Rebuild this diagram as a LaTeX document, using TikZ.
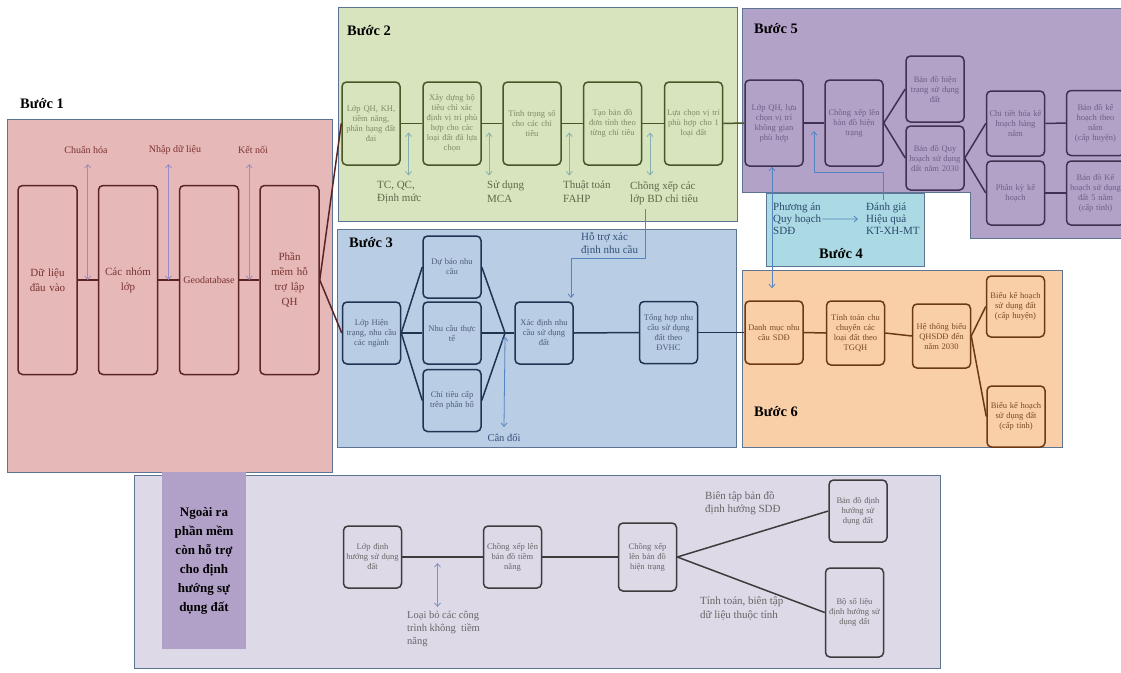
\documentclass[tikz,border=0pt]{standalone}
\usepackage{fontspec}
\setmainfont{Liberation Serif}
\usepackage{tikz}
\usetikzlibrary{positioning, arrows.meta, calc}

\definecolor{khungvien}{HTML}{5E7493}
\definecolor{nen1}{HTML}{E6B8B7}
\definecolor{vien1}{HTML}{5A2424}
\definecolor{chu1}{HTML}{7A3232}
\definecolor{mui1}{HTML}{9A8CC2}
\definecolor{nen2}{HTML}{D7E4BD}
\definecolor{vien2}{HTML}{485628}
\definecolor{chu2}{HTML}{7D8C68}
\definecolor{nhan2}{HTML}{5C6A4C}
\definecolor{mui2}{HTML}{86AEB0}
\definecolor{nen3}{HTML}{B9CDE5}
\definecolor{vien3}{HTML}{1F3450}
\definecolor{chu3}{HTML}{4E5E78}
\definecolor{nhan3}{HTML}{34507A}
\definecolor{mui3}{HTML}{5585C0}
\definecolor{nen4}{HTML}{ABD9E4}
\definecolor{chu4}{HTML}{2B4A6B}
\definecolor{nen5}{HTML}{B3A2C7}
\definecolor{vien5}{HTML}{3F3151}
\definecolor{chu5}{HTML}{6E5E88}
\definecolor{nen6}{HTML}{F9CFA8}
\definecolor{vien6}{HTML}{6B3A15}
\definecolor{chu6}{HTML}{7A4A25}
\definecolor{nen7}{HTML}{DDD9E7}
\definecolor{nen7b}{HTML}{B1A0C7}
\definecolor{vien7}{HTML}{3C3C3C}
\definecolor{chu7}{HTML}{666666}
\definecolor{mui7}{HTML}{8092C6}

\begin{document}
\begin{tikzpicture}[
        x=1pt, y=-1pt,
        >={Straight Barb[length=3.5pt, width=6pt]},
        panel/.style={draw=khungvien, line width=0.9pt, anchor=north west, inner sep=0pt},
        box/.style={draw, rounded corners=4.5pt, line width=1.5pt, align=center, inner sep=1pt, text width=56pt, font=\fontsize{8.5}{10}\selectfont},
        box1/.style={box, draw=vien1, text=chu1, text width=57pt, minimum height=189pt, font=\fontsize{11}{15}\selectfont},
        box2/.style={box, draw=vien2, text=chu2, minimum height=83pt},
        box3/.style={box, draw=vien3, text=chu3, minimum height=62pt},
        box5/.style={box, draw=vien5, text=chu5, minimum height=65pt},
        box6/.style={box, draw=vien6, text=chu6, minimum height=62pt},
        box7/.style={box, draw=vien7, text=chu7, minimum height=62pt},
        note/.style={align=left, inner sep=0pt, font=\fontsize{11}{13.5}\selectfont},
        buoc/.style={inner sep=0pt, font=\fontsize{14.5}{16}\selectfont\bfseries},
        haichieu/.style={<->, line width=0.8pt},
        lienket/.style={line width=1.5pt}
    ]

    \fill[white] (0,0) rectangle (1121,672);
    \useasboundingbox (0,0) rectangle (1121,672);

    % --- Bước 1 ---
    \node[panel, fill=nen1, minimum width=325pt, minimum height=353pt] (khung1) at (7,119) {};
    \node[buoc] (buoc1) at (42,104) {Bước 1};
    \node[box1] (s1a) at (47.5,280) {Dữ liệu\\đầu vào};
    \node[box1] (s1b) at (128,280) {Các nhóm\\lớp};
    \node[box1, font=\fontsize{10}{12}\selectfont] (s1c) at (209,280) {Geodatabase};
    \node[box1] (s1d) at (289.5,280) {Phần\\mềm hỗ\\trợ lập\\QH};
    \node[note, text=chu1, font=\fontsize{10}{12}\selectfont] (chuanhoa) at (86,150) {Chuẩn hóa};
    \node[note, text=chu1, font=\fontsize{10}{12}\selectfont] (nhapdl) at (175,150) {Nhập dữ liệu};
    \node[note, text=chu1, font=\fontsize{10}{12}\selectfont] (ketnoi) at (253,150) {Kết nối};

    % --- Bước 2 ---
    \node[panel, fill=nen2, minimum width=399pt, minimum height=214pt] (khung2) at (338,7) {};
    \node[buoc] (buoc2) at (369,31) {Bước 2};
    \node[box2] (s2a) at (371,123.5) {Lớp QH, KH,\\tiềm năng,\\phân hạng đất\\đai};
    \node[box2] (s2b) at (452,123.5) {Xây dựng bộ\\tiêu chí xác\\định vị trí phù\\hợp cho các\\loại đất đã lựa\\chọn};
    \node[box2] (s2c) at (532,123.5) {Tính trọng số\\cho các chỉ\\tiêu};
    \node[box2] (s2d) at (612.5,123.5) {Tạo bản đồ\\đơn tính theo\\từng chỉ tiêu};
    \node[box2] (s2e) at (693.5,123.5) {Lựa chọn vị trí\\phù hợp cho 1\\loại đất};
    \node[note, text=nhan2, anchor=north west] (tcqc) at (377,181) {TC, QC,\\Định mức};
    \node[note, text=nhan2, anchor=north west] (mca) at (487,181) {Sử dụng\\MCA};
    \node[note, text=nhan2, anchor=north west] (fahp) at (563,181) {Thuật toán\\FAHP};
    \node[note, text=nhan2, anchor=north west] (chongxep) at (630,181) {Chồng xếp các\\lớp BD chỉ tiêu};

    % --- Bước 3 ---
    \node[panel, fill=nen3, minimum width=399pt, minimum height=218pt] (khung3) at (337,229) {};
    \node[buoc] (buoc3) at (371,243) {Bước 3};
    \node[box3] (s3a) at (371.5,333) {Lớp Hiện\\trạng, nhu cầu\\các ngành};
    \node[box3] (s3b) at (452,267) {Dự báo nhu\\cầu};
    \node[box3] (s3c) at (452,333) {Nhu cầu thực\\tế};
    \node[box3] (s3d) at (452,400.5) {Chỉ tiêu cấp\\trên phân bổ};
    \node[box3] (s3e) at (544,333) {Xác định nhu\\cầu sử dụng\\đất};
    \node[box3] (s3f) at (668.5,332.5) {Tổng hợp nhu\\cầu sử dụng\\đất theo\\ĐVHC};
    \coordinate (hop) at (505,333);
    \node[note, text=nhan3, anchor=north, font=\fontsize{10.5}{12}\selectfont] (candoi) at (504,434) {Cân đối};
    \node[note, text=nhan3, anchor=north west] (hotro) at (581,232) {Hỗ trợ xác\\định nhu cầu};

    % --- Bước 5 ---
    \filldraw[fill=nen5, draw=khungvien, line width=0.9pt] (742,8) -- (1126,8) -- (1126,238) -- (970,238) -- (970,192) -- (742,192) -- cycle;
    \node[buoc] (buoc5) at (776,29) {Bước 5};
    \node[box5, minimum height=86pt] (s5a) at (774,123) {Lớp QH, lựa\\chọn vị trí\\không gian\\phù hợp};
    \node[box5, minimum height=86pt] (s5b) at (854,123) {Chồng xếp lên\\bản đồ hiện\\trạng};
    \node[box5, minimum height=66pt] (s5c) at (935,89) {Bản đồ hiện\\trạng sử dụng\\đất};
    \node[box5, minimum height=64pt] (s5d) at (935,158) {Bản đồ Quy\\hoạch sử dụng\\đất năm 2030};
    \node[box5] (s5e) at (1015.5,123.5) {Chi tiết hóa kế\\hoạch hàng\\năm};
    \node[box5, minimum height=64pt] (s5f) at (1015.5,193) {Phân kỳ kế\\hoạch};
    \node[box5] (s5g) at (1095.5,123) {Bản đồ kế\\hoạch theo\\năm\\(cấp huyện)};
    \node[box5, minimum height=64pt] (s5h) at (1095.5,193) {Bản đồ Kế\\hoạch sử dụng\\đất 5 năm\\(cấp tỉnh)};

    % --- Bước 4 ---
    \node[panel, fill=nen4, minimum width=158pt, minimum height=73pt] (khung4) at (766,193) {};
    \node[note, text=chu4, anchor=north west, font=\fontsize{11}{12}\selectfont] (phuongan) at (773,203) {Phương án\\Quy hoạch\\SDĐ};
    \node[note, text=chu4, anchor=north west, font=\fontsize{11}{12}\selectfont] (danhgia) at (866,203) {Đánh giá\\Hiệu quả\\KT-XH-MT};
    \node[buoc] (buoc4) at (841,254) {Bước 4};
    \coordinate (danhgiatren) at (883,200);
    \coordinate (vao5) at (814,131);

    % --- Bước 6 ---
    \node[panel, fill=nen6, minimum width=320pt, minimum height=177pt] (khung6) at (742,270) {};
    \node[buoc] (buoc6) at (776,412) {Bước 6};
    \node[box6, minimum height=63pt] (s6a) at (774,332.5) {Danh mục nhu\\cầu SDĐ};
    \node[box6, minimum height=64pt] (s6b) at (855.5,333) {Tính toán chu\\chuyển các\\loại đất theo\\TGQH};
    \node[box6, minimum height=64pt] (s6c) at (941.5,336) {Hệ thống biểu\\QHSDĐ đến\\năm 2030};
    \node[box6, minimum height=61pt] (s6d) at (1015.5,306.5) {Biểu kế hoạch\\sử dụng đất\\(cấp huyện)};
    \node[box6, minimum height=61pt] (s6e) at (1016,416.5) {Biểu kế hoạch\\sử dụng đất\\(cấp tỉnh)};

    % --- Ngoài ra: định hướng sử dụng đất ---
    \node[panel, fill=nen7, minimum width=806pt, minimum height=193pt] (khung7) at (134,475) {};
    \node[fill=nen7b, minimum width=84pt, minimum height=177pt, inner sep=0pt, align=center, font=\fontsize{13}{19}\selectfont\bfseries] (ngoaira) at (204,560.5) {Ngoài ra\\phần mềm\\còn hỗ trợ\\cho định\\hướng sự\\dụng đất};
    \node[box7] (b1) at (372.5,557) {Lớp định\\hướng sử dụng\\đất};
    \node[box7] (b2) at (512.5,557) {Chồng xếp lên\\bản đồ tiềm\\năng};
    \node[box7, minimum height=68pt] (b3) at (647.5,557) {Chồng xếp\\lên bản đồ\\hiện trạng};
    \node[box7] (b4) at (858,511) {Bản đồ định\\hướng sử\\dụng đất};
    \node[box7, minimum height=89pt] (b5) at (854.5,612.5) {Bộ số liệu\\định hướng sử\\dụng đất};
    \node[note, text=chu7, anchor=north west, font=\fontsize{10.5}{13}\selectfont] (loaibo) at (407,611) {Loại bỏ các công\\trình không\ \ tiềm\\năng};
    \node[note, text=chu7, anchor=north west] (bientap) at (705,491) {Biên tập bản đồ\\định hướng SDĐ};
    \node[note, text=chu7, anchor=north west] (tinhtoan) at (700,597) {Tính toán, biên tập\\dữ liệu thuộc tính};

    % --- Edges: Bước 1 ---
    \foreach \a/\b in {s1a/s1b, s1b/s1c, s1c/s1d} {
        \draw[vien1, lienket] (\a.east) -- (\b.west);
        \draw[haichieu, mui1] ($(\a.east)!.5!(\b.west)$) -- ++(0,-116);
    }
    \draw[vien1, lienket] (s1d.east) -- (s2a.west);
    \draw[vien1, lienket] (s1d.east) -- (s3a.west);

    % --- Edges: Bước 2 ---
    \foreach \a/\b in {s2a/s2b, s2b/s2c, s2c/s2d, s2d/s2e} {
        \draw[vien2, lienket] (\a.east) -- (\b.west);
        \draw[haichieu, mui2] ($(\a.east)!.5!(\b.west)+(-3,9)$) -- ++(0,43);
    }
    \draw[vien2, lienket] (s2e.east) -- (s5a.west);
    \coordinate (bdct) at (645,209);
    \coordinate (nhucau) at (571,298);
    \draw[->, mui3, line width=0.8pt] (bdct) -- ++(0,49) -| (nhucau);

    % --- Edges: Bước 3 ---
    \foreach \n in {s3b, s3c, s3d} {
        \draw[vien3, lienket] (s3a.east) -- (\n.west);
        \draw[vien3, lienket] (\n.east) -- (hop);
    }
    \draw[vien3, lienket] (hop) -- (s3e.west);
    \draw[vien3, lienket] (s3e.east) -- (s3f.west);
    \draw[vien3, lienket] (s3f.east) -- (s6a.west);
    \draw[haichieu, mui3] ([yshift=-4pt]hop) -- ([yshift=7pt]candoi.north);

    % --- Edges: Bước 5 ---
    \draw[vien5, lienket] (s5a.east) -- (s5b.west);
    \draw[vien5, lienket] (s5b.east) -- (s5c.west);
    \draw[vien5, lienket] (s5b.east) -- (s5d.west);
    \draw[vien5, lienket] (s5d.east) -- (s5e.west);
    \draw[vien5, lienket] (s5d.east) -- (s5f.west);
    \draw[vien5, lienket] (s5e.east) -- (s5g.west);
    \draw[vien5, lienket] (s5f.east) -- (s5h.west);

    % --- Edges: Bước 4 ---
    \draw[->, mui3, line width=0.8pt, shorten <=1pt, shorten >=8pt] (phuongan.east) -- (danhgia.west);
    \draw[haichieu, mui3, shorten >=12pt] ([xshift=-2pt]s5a.south) -- ([xshift=-2pt]s6a.north);
    \draw[->, mui3, line width=0.8pt] (danhgiatren) -- ++(0,-28) -| (vao5);

    % --- Edges: Bước 6 ---
    \draw[vien6, lienket] (s6a.east) -- (s6b.west);
    \draw[vien6, lienket] (s6b.east) -- (s6c.west);
    \draw[vien6, lienket] (s6c.east) -- (s6d.west);
    \draw[vien6, lienket] (s6c.east) -- (s6e.west);

    % --- Edges: định hướng ---
    \draw[vien7, lienket] (b1.east) -- (b2.west);
    \draw[vien7, lienket] (b2.east) -- (b3.west);
    \draw[vien7, lienket] (b3.east) -- (b4.west);
    \draw[vien7, lienket] (b3.east) -- (b5.west);
    \draw[haichieu, mui7] ($(b1.east)!.5!(b2.west)+(-5,6)$) -- ++(0,44);

\end{tikzpicture}
\end{document}
